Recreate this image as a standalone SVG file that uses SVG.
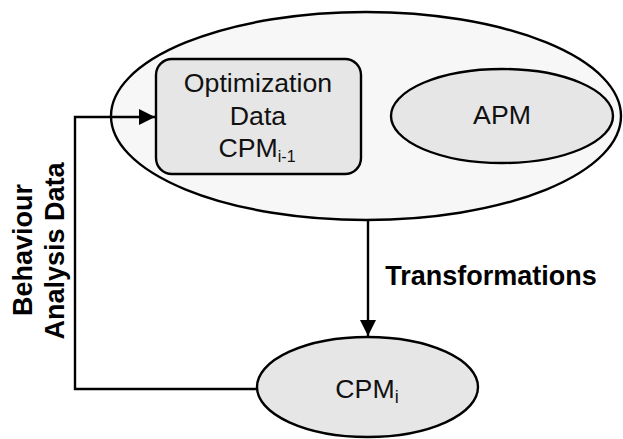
<svg xmlns="http://www.w3.org/2000/svg" width="623" height="439" viewBox="0 0 623 439">
<style>
.shape{stroke:#000;stroke-width:2.4}
.outer{fill:#f7f7f7}
.inner{fill:#e6e6e6}
.t{font-family:"Liberation Sans",Arial,sans-serif;font-size:26.7px;fill:#111;text-anchor:middle}
.b{font-family:"Liberation Sans",Arial,sans-serif;font-size:27px;font-weight:bold;fill:#000;text-anchor:middle}
.conn{fill:none;stroke:#000;stroke-width:2.4}
</style>
<defs>
<marker id="ah" markerWidth="16" markerHeight="16" viewBox="0 0 16 16" refX="16" refY="8" orient="auto" markerUnits="userSpaceOnUse">
<path d="M0,0 L16,8 L0,16 Z" fill="#000"/>
</marker>
</defs>
<g id="pim">
<ellipse class="shape outer" cx="366" cy="116" rx="255" ry="104"/>
</g>
<g id="optimization">
<rect class="shape inner" x="156" y="59" width="205" height="115" rx="16" ry="16"/>
<text class="t" x="258" y="92">Optimization</text>
<text class="t" x="258" y="125">Data</text>
<text class="t" x="257" y="157">CPM<tspan font-size="16" dy="5">i-1</tspan></text>
</g>
<g id="apm">
<ellipse class="shape inner" cx="502" cy="116" rx="111" ry="47"/>
<text class="t" x="502" y="124">APM</text>
</g>
<g id="cpmi">
<ellipse class="shape inner" cx="367.5" cy="387" rx="110.5" ry="50"/>
<text class="t" x="367" y="398">CPM<tspan font-size="18" dy="5">i</tspan></text>
</g>
<g id="connectors">
<path class="conn" d="M257,389 L75,389 L75,117 L155,117" marker-end="url(#ah)"/>
<path class="conn" d="M368,220 L368,336" marker-end="url(#ah)"/>
<text class="b" x="491" y="285">Transformations</text>
<text class="b" transform="translate(32,250) rotate(-90)">Behaviour</text>
<text class="b" transform="translate(64,251) rotate(-90)">Analysis Data</text>
</g>
</svg>
